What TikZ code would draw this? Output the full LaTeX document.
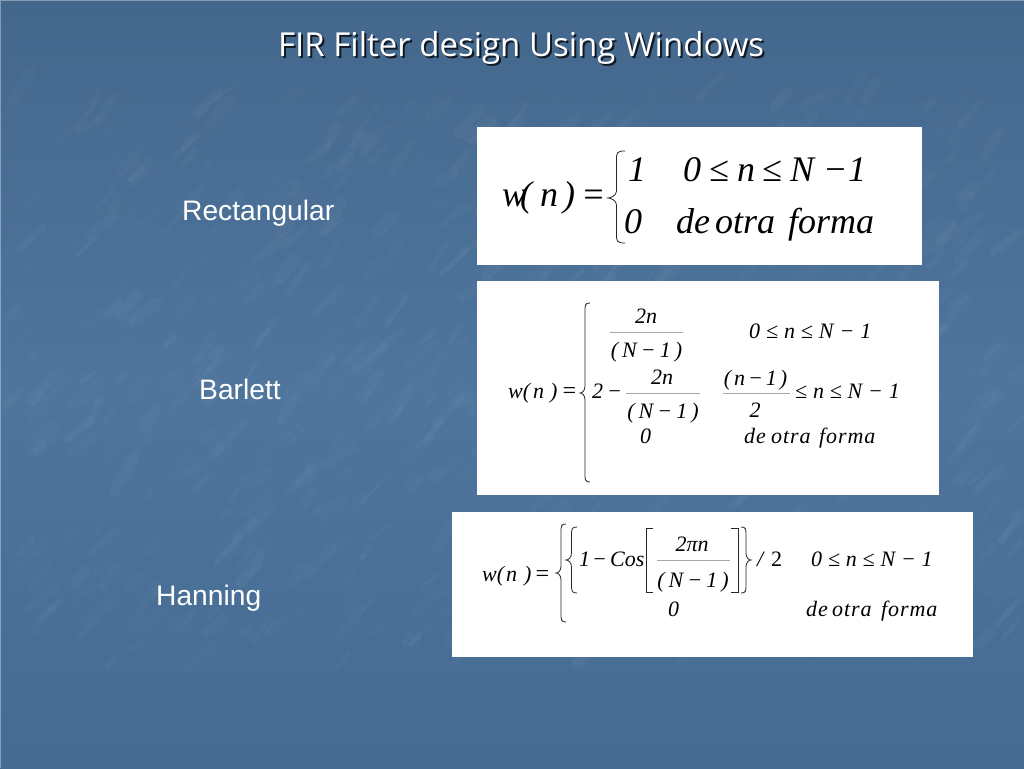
\documentclass[tikz,border=0pt]{standalone}
\usepackage{fontspec}
\setmainfont{Liberation Serif}
\newfontfamily\titlefont{Open Sans}
\newfontfamily\labelfont{Liberation Sans}
\newcommand\fs[1]{\fontsize{#1}{#1}\selectfont}
\newcommand\rng[1]{0\hspace{#1}≤\hspace{#1}n\hspace{#1}≤\hspace{#1}N\hspace{#1}−\hspace{#1}1}
\newcommand\dnm[1]{(\hspace{#1}N\hspace{#1}−\hspace{#1}1\hspace{#1})}
\newcommand\mylb[5]{\draw[brk] (#2,#3) .. controls ({(#1+#2)/2},#3) and ({(#1+#2)/2},#3+2) .. ({(#1+#2)/2},#3+9) -- ({(#1+#2)/2},#4-7) .. controls ({(#1+#2)/2},#4-2) and (#1+2,#4) .. (#1,#4) .. controls (#1+2,#4) and ({(#1+#2)/2},#4+2) .. ({(#1+#2)/2},#4+7) -- ({(#1+#2)/2},#5-9) .. controls ({(#1+#2)/2},#5-2) and ({(#1+#2)/2},#5) .. (#2,#5);}
\newcommand\myrb[5]{\draw[brk] (#1,#3) .. controls ({(#1+#2)/2},#3) and ({(#1+#2)/2},#3+2) .. ({(#1+#2)/2},#3+9) -- ({(#1+#2)/2},#4-7) .. controls ({(#1+#2)/2},#4-2) and (#2-2,#4) .. (#2,#4) .. controls (#2-2,#4) and ({(#1+#2)/2},#4+2) .. ({(#1+#2)/2},#4+7) -- ({(#1+#2)/2},#5-9) .. controls ({(#1+#2)/2},#5-2) and ({(#1+#2)/2},#5) .. (#1,#5);}
\definecolor{bgtop}{HTML}{44678C}
\definecolor{bgmid}{HTML}{4F759D}
\definecolor{bgbot}{HTML}{456B92}
\definecolor{fracgray}{HTML}{A8A8A8}
\tikzset{
  x=1pt,y=-1pt,
  big/.style={inner sep=0pt,anchor=base west,text=black,font=\fs{36}\itshape},
  small/.style={inner sep=0pt,anchor=base west,text=black,font=\fs{22}\itshape},
  smallc/.style={inner sep=0pt,anchor=base,text=black,font=\fs{22}\itshape},
  spaced/.style={inner sep=0pt,anchor=base west,text=black,font=\fs{22}\itshape\addfontfeature{LetterSpace=4}},
  lab/.style={inner sep=0pt,anchor=base west,text=white,font=\labelfont\fs{28.2}},
  ttl/.style={inner sep=0pt,anchor=base west,font=\titlefont\fs{33}},
  panel/.style={fill=white,draw=none},
  brk/.style={draw=black!85,line width=0.8pt},
  frc/.style={draw=fracgray,line width=0.5pt},
}
\begin{document}
\begin{tikzpicture}
\useasboundingbox (0,0) rectangle (1024,768);
\shade[top color=bgtop,bottom color=bgbot,middle color=bgmid] (0,0) rectangle (1024,768);
% mottled texture
\pgfmathsetseed{4217}
\begin{scope}
\clip (0,0) rectangle (1024,768);
\foreach \i in {1,...,700}{
  \pgfmathsetmacro\px{rnd*1024}
  \pgfmathsetmacro\py{100+rnd*570}
  \pgfmathsetmacro\ln{8+rnd*30}
  \pgfmathsetmacro\an{-35-rnd*25}
  \pgfmathsetmacro\wd{3+rnd*9}
  \pgfmathsetmacro\op{0.008+rnd*0.025}
  \draw[white,opacity=\op,line width=\wd pt,line cap=round]
    (\px,\py) -- ++({\ln*cos(\an)},{\ln*sin(\an)});
}
\end{scope}
\draw[white,opacity=0.35,line width=1pt] (0.5,768) -- (0.5,0.5) -- (1024,0.5);

% title and labels
\node[ttl,text=black!75!bgtop] (titleshadow) at (280,58.5) {FIR Filter design Using Windows};
\node[ttl,text=white] (title) at (278,56.5) {FIR Filter design Using Windows};
\node[lab] (lrect) at (182,220) {Rectangular};
\node[lab] (lbar) at (199,399) {Barlett};
\node[lab] (lhan) at (156,605) {Hanning};

% panels
\fill[panel] (477,127) rectangle (922,265);
\fill[panel] (477,281) rectangle (939,495);
\fill[panel] (452,512) rectangle (973,657);

% --- Rectangular
\node[big] (a1) at (502,206) {w};
\node[big] (a1b) at (520,206) {(};
\node[big] (a2) at (540,206) {n};
\node[big] (a3) at (563,206) {)};
\node[big] (a4) at (581,206) {=};
\mylb{608}{625}{151}{198}{243}
\node[big] (a5) at (628,181) {1};
\node[big] (a6) at (624,233) {0};
\node[big] (a7) at (683,181) {0};
\node[big] (a8) at (709,181) {≤};
\node[big] (a9) at (737,181) {n};
\node[big] (a10) at (762,181) {≤};
\node[big] (a11) at (790,181) {N};
\node[big] (a12) at (823,181) {−};
\node[big] (a13) at (848,181) {1};
\node[big] (a14) at (676,233) {de};
\node[big] (a15) at (715,233) {otra};
\node[big] (a16) at (788,233) {forma};

% --- Barlett
\node[small] (b1) at (508,398) {w(};
\node[small] (b2) at (533,398) {n};
\node[small] (b3) at (550,398) {)};
\node[small,font=\fs{24}\itshape] (b4) at (561,398) {=};
\mylb{580}{590}{303}{393}{482}
\node[smallc] (b5) at (646,323) {2n};
\draw[frc] (610,332) -- (683,332);
\node[smallc] (b6) at (646.5,357) {\dnm{4pt}};
\node[small] (b7) at (749,338) {\rng{5.9pt}};
\node[small] (b8) at (592,398) {2};
\node[small] (b9) at (607,398) {−};
\node[smallc] (b10) at (662,384) {2n};
\draw[frc] (626,393) -- (700,393);
\node[smallc] (b11) at (663,418) {\dnm{4pt}};
\node[smallc] (b12) at (755.5,385) {(\hspace{3pt}n\hspace{3pt}−\hspace{3pt}1\hspace{3pt})};
\draw[frc] (723,393) -- (790,393);
\node[smallc] (b13) at (755,417) {2};
\node[small] (b14) at (795,398) {≤\hspace{5.8pt}n\hspace{5.8pt}≤\hspace{5.8pt}N\hspace{5.8pt}−\hspace{5.8pt}1};
\node[small] (b15) at (640,443) {0};
\node[spaced] (b16) at (744,443) {de};
\node[spaced] (b17) at (771,443) {otra};
\node[spaced] (b18) at (819,443) {forma};

% --- Hanning
\node[small] (c1) at (482,581) {w(};
\node[small] (c2) at (506,581) {n};
\node[small] (c3) at (524,581) {)};
\node[small,font=\fs{24}\itshape] (c4) at (534,581) {=};
\mylb{556}{566}{524}{573}{622}
\mylb{566}{577}{527}{560}{593}
\node[small] (c5) at (579,566) {1};
\node[small] (c6) at (592,566) {−};
\node[small] (c7) at (610,566) {Cos};
\draw[brk] (653,528) -- (646,528) -- (646,592) -- (653,592);
\node[smallc] (c8) at (692,551) {2πn};
\draw[frc] (657,560) -- (730,560);
\node[smallc] (c9) at (693,587) {\dnm{4pt}};
\draw[brk] (731,528) -- (738,528) -- (738,592) -- (731,592);
\myrb{741}{751}{527}{560}{593}
\node[small] (c10) at (757,566) {/};
\node[small,font=\fs{22}] (c11) at (771,566) {2};
\node[small] (c12) at (811,566) {\rng{5.8pt}};
\node[small] (c13) at (668,616) {0};
\node[spaced] (c14) at (806,616) {de};
\node[spaced] (c15) at (832,616) {otra};
\node[spaced] (c16) at (881,616) {forma};
\end{tikzpicture}
\end{document}
